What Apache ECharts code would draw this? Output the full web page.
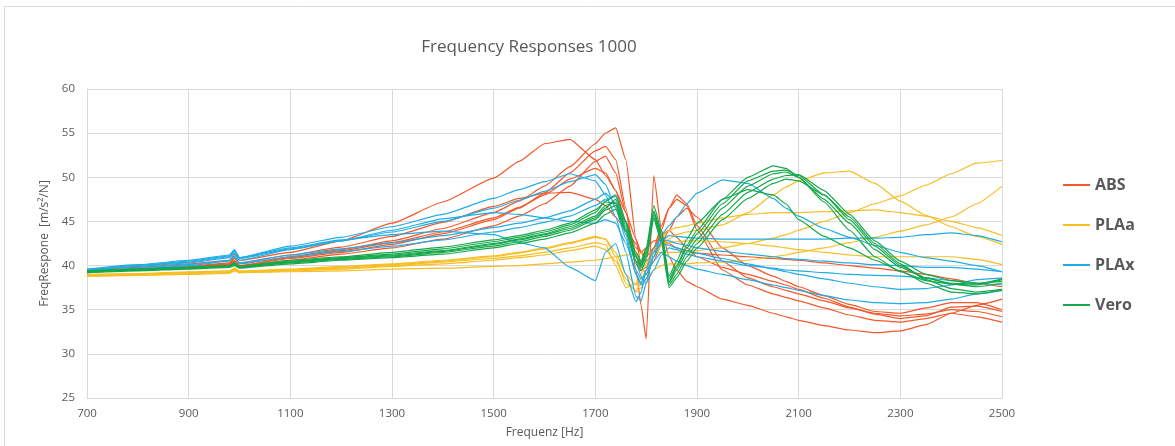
<!DOCTYPE html>
<html>
<head>
<meta charset="utf-8">
<title>Frequency Responses 1000</title>
<script src="https://cdn.jsdelivr.net/npm/echarts@6/dist/echarts.min.js"></script>
<style>
  html, body { margin: 0; padding: 0; background: #ffffff; }
  #chart { width: 1175px; height: 446px; }
</style>
</head>
<body>
<div id="chart"></div>
<script>
// Shared frequency grid [Hz] for all measured curves
const freq = [700, 800, 900, 980, 990, 1000, 1100, 1200, 1300, 1400, 1500, 1550, 1600, 1650, 1700, 1720, 1740, 1760, 1780, 1790, 1800, 1815, 1830, 1845, 1860, 1880, 1900, 1950, 2000, 2050, 2075, 2100, 2150, 2200, 2250, 2300, 2350, 2400, 2450, 2500];

const xTicks = [700, 900, 1100, 1300, 1500, 1700, 1900, 2100, 2300, 2500];
const yTicks = [25, 30, 35, 40, 45, 50, 55, 60];

// ABS specimens [m/s²/N]
const abs1 = [39.5, 39.8, 40.2, 40.6, 41.3, 40.6, 41.5, 42.8, 44.8, 47.2, 49.9, 51.8, 53.8, 54.3, 52.0, 50.2, 48.5, 46.0, 43.0, 41.5, 40.5, 41.5, 44.0, 46.5, 48.0, 47.0, 44.5, 40.5, 38.6, 37.6, 37.2, 36.8, 36.0, 35.2, 34.6, 34.3, 34.5, 35.0, 34.8, 34.2];
const abs2 = [39.4, 39.6, 39.9, 40.2, 40.8, 40.2, 41.0, 41.8, 42.8, 44.2, 46.0, 47.3, 49.0, 51.2, 53.8, 55.0, 55.6, 52.0, 43.0, 40.0, 39.0, 40.5, 42.5, 44.0, 45.5, 46.5, 45.5, 42.0, 40.0, 38.8, 38.2, 37.6, 36.6, 35.6, 34.8, 34.6, 35.2, 35.8, 35.8, 35.0];
const abs3 = [39.3, 39.6, 39.8, 40.1, 40.6, 40.0, 40.8, 41.5, 42.4, 43.6, 45.2, 46.5, 48.2, 50.5, 53.0, 53.5, 52.0, 46.5, 39.5, 35.5, 31.7, 50.2, 44.0, 41.0, 39.5, 38.2, 37.6, 36.2, 35.5, 34.6, 34.2, 33.8, 33.2, 32.7, 32.4, 32.6, 33.3, 34.6, 35.5, 36.2];
const abs4 = [39.2, 39.5, 39.7, 40.0, 40.4, 39.9, 40.6, 41.3, 42.0, 43.0, 44.5, 45.6, 47.0, 49.0, 51.8, 52.4, 50.5, 46.0, 41.0, 39.5, 39.8, 42.0, 44.5, 46.5, 47.5, 46.8, 44.0, 39.5, 37.8, 36.8, 36.4, 36.0, 35.2, 34.4, 33.8, 33.6, 34.0, 34.6, 34.2, 33.6];
const abs5 = [39.3, 39.5, 39.8, 40.1, 40.5, 40.0, 40.9, 41.7, 42.6, 43.8, 45.4, 46.6, 48.0, 49.8, 51.0, 50.5, 48.5, 45.0, 42.0, 41.5, 42.0, 42.8, 43.0, 42.5, 42.0, 41.6, 41.4, 41.2, 41.0, 40.8, 40.7, 40.6, 40.3, 40.0, 39.7, 39.4, 39.0, 38.5, 38.0, 37.6];
const abs6 = [39.4, 39.6, 39.9, 40.3, 40.9, 40.3, 41.2, 42.1, 43.3, 44.9, 46.7, 47.6, 48.2, 48.3, 47.5, 46.8, 45.5, 44.0, 42.5, 41.5, 41.0, 42.0, 43.5, 44.0, 43.2, 42.0, 41.0, 39.8, 39.0, 38.2, 37.8, 37.3, 36.3, 35.3, 34.5, 34.0, 34.3, 35.3, 35.4, 34.8];

// PLAa specimens
const plaa1 = [38.8, 38.9, 39.0, 39.1, 39.4, 39.2, 39.3, 39.4, 39.6, 39.7, 39.9, 40.0, 40.2, 40.4, 40.6, 40.8, 41.0, 41.2, 41.3, 41.4, 41.4, 41.5, 41.5, 41.5, 41.5, 41.6, 41.7, 42.0, 42.5, 43.1, 43.5, 44.0, 45.0, 46.0, 47.0, 47.9, 49.1, 50.4, 51.6, 51.9];
const plaa2 = [38.9, 39.0, 39.2, 39.3, 39.6, 39.3, 39.5, 39.8, 40.1, 40.5, 41.0, 41.4, 41.9, 42.5, 43.2, 43.0, 41.5, 39.0, 37.8, 38.5, 39.5, 41.0, 42.2, 43.0, 43.5, 43.8, 44.0, 44.6, 46.0, 48.0, 48.9, 49.6, 50.5, 50.7, 49.3, 47.3, 45.7, 44.4, 43.3, 42.4];
const plaa3 = [39.0, 39.1, 39.3, 39.4, 39.7, 39.4, 39.6, 39.9, 40.2, 40.6, 41.1, 41.5, 42.0, 42.6, 43.3, 43.0, 41.0, 38.0, 37.2, 38.0, 39.5, 41.8, 43.2, 44.0, 44.3, 44.5, 44.8, 45.4, 45.8, 46.0, 46.0, 46.0, 46.1, 46.2, 46.3, 46.0, 45.6, 45.0, 44.3, 43.4];
const plaa4 = [38.8, 38.9, 39.1, 39.2, 39.5, 39.2, 39.4, 39.6, 39.9, 40.2, 40.6, 40.9, 41.2, 41.7, 42.2, 41.8, 40.5, 38.5, 37.0, 37.5, 38.5, 39.5, 40.0, 40.2, 40.2, 40.2, 40.3, 40.4, 40.6, 41.0, 41.2, 41.5, 42.0, 42.6, 43.2, 43.9, 44.6, 45.5, 47.0, 49.0];
const plaa5 = [38.9, 39.0, 39.2, 39.3, 39.6, 39.3, 39.5, 39.7, 40.0, 40.4, 40.8, 41.1, 41.5, 42.0, 42.6, 42.4, 40.0, 37.5, 38.0, 39.0, 40.2, 41.5, 42.3, 42.6, 42.7, 42.8, 42.8, 42.7, 42.5, 42.2, 42.0, 41.8, 41.5, 41.2, 41.0, 41.0, 41.0, 41.0, 40.7, 40.1];

// PLAx specimens
const plax1 = [39.6, 40.1, 40.6, 41.2, 41.8, 40.9, 42.2, 43.2, 44.4, 45.8, 47.6, 48.6, 49.5, 50.4, 49.6, 48.0, 45.5, 41.5, 36.5, 36.0, 38.0, 41.5, 42.5, 42.3, 42.0, 41.7, 41.4, 40.8, 40.2, 39.6, 39.3, 39.0, 38.5, 38.0, 37.6, 37.3, 37.4, 37.8, 38.4, 38.6];
const plax2 = [39.5, 40.0, 40.4, 41.0, 41.6, 40.8, 41.9, 42.8, 43.8, 45.0, 46.5, 47.4, 48.4, 49.5, 50.3, 49.2, 46.5, 43.0, 39.0, 38.0, 39.5, 42.0, 43.0, 42.8, 42.5, 42.3, 42.0, 41.6, 41.3, 41.0, 40.8, 40.7, 40.5, 40.3, 40.1, 40.0, 39.8, 39.8, 39.6, 39.3];
const plax3 = [39.3, 39.7, 40.1, 40.6, 41.1, 40.3, 41.2, 41.9, 42.6, 43.4, 44.3, 44.8, 45.4, 46.2, 47.5, 48.2, 47.0, 43.5, 39.0, 37.8, 38.5, 41.0, 43.5, 44.5, 45.5, 47.0, 48.2, 49.7, 49.3, 47.6, 46.5, 45.6, 44.2, 43.2, 42.3, 41.5, 40.9, 40.5, 40.0, 39.3];
const plax4 = [39.4, 39.9, 40.3, 40.9, 41.4, 40.6, 41.8, 42.8, 44.0, 45.3, 46.0, 45.8, 45.4, 45.0, 44.8, 45.2, 44.8, 42.5, 39.5, 38.5, 39.0, 41.0, 42.8, 43.4, 43.3, 43.2, 43.1, 43.0, 43.0, 43.0, 43.0, 43.0, 43.0, 43.1, 43.1, 43.2, 43.5, 43.7, 43.4, 42.7];
const plax5 = [39.5, 40.0, 40.5, 41.1, 41.7, 40.9, 42.0, 42.9, 43.5, 43.9, 43.5, 42.6, 42.0, 39.8, 38.3, 41.5, 42.5, 39.0, 35.9, 37.0, 39.5, 40.5, 41.5, 41.0, 40.5, 40.0, 39.6, 39.0, 38.4, 37.8, 37.5, 37.2, 36.6, 36.1, 35.8, 35.7, 35.8, 36.2, 36.8, 37.2];
const plax6 = [39.2, 39.6, 40.0, 40.5, 41.0, 40.2, 41.0, 41.6, 42.2, 42.9, 43.8, 44.3, 44.9, 45.6, 46.8, 47.5, 47.8, 45.0, 40.5, 38.8, 38.0, 39.5, 41.2, 42.0, 41.8, 41.3, 41.0, 40.5, 40.0, 39.7, 39.5, 39.4, 39.2, 39.0, 38.9, 38.8, 38.6, 38.3, 38.0, 37.8];

// Vero specimens
const vero1 = [39.4, 39.6, 39.8, 40.0, 40.3, 39.9, 40.5, 40.9, 41.3, 41.9, 42.7, 43.2, 43.8, 44.6, 46.0, 47.3, 48.0, 45.0, 41.5, 40.5, 42.0, 46.8, 44.0, 38.5, 40.0, 42.3, 44.0, 47.5, 50.0, 51.3, 51.0, 50.0, 47.2, 44.0, 41.0, 39.3, 38.3, 37.9, 37.8, 38.4];
const vero2 = [39.3, 39.5, 39.7, 39.9, 40.2, 39.8, 40.4, 40.8, 41.2, 41.7, 42.5, 43.0, 43.6, 44.4, 45.6, 46.8, 47.2, 44.5, 41.0, 40.0, 41.5, 46.2, 43.5, 38.0, 39.5, 41.5, 43.0, 46.5, 49.0, 50.4, 50.6, 50.0, 47.5, 44.8, 41.8, 39.8, 38.6, 38.0, 37.9, 38.5];
const vero3 = [39.3, 39.5, 39.7, 39.9, 40.1, 39.8, 40.3, 40.7, 41.0, 41.5, 42.2, 42.7, 43.3, 44.0, 45.2, 46.3, 46.8, 44.0, 40.5, 39.8, 41.0, 45.8, 43.0, 37.8, 39.0, 41.0, 42.5, 45.8, 48.3, 49.8, 50.2, 50.3, 48.5, 45.8, 42.8, 40.5, 39.0, 38.3, 38.0, 38.2];
const vero4 = [39.2, 39.4, 39.6, 39.8, 40.0, 39.7, 40.2, 40.6, 40.9, 41.3, 42.0, 42.5, 43.0, 43.7, 44.8, 45.8, 46.4, 43.8, 40.2, 39.4, 40.6, 45.3, 42.6, 37.5, 38.6, 40.5, 42.0, 45.2, 47.6, 49.3, 49.8, 49.6, 48.0, 45.5, 42.5, 40.2, 38.4, 37.4, 37.0, 37.3];
const vero5 = [39.4, 39.6, 39.8, 40.0, 40.3, 39.9, 40.6, 41.0, 41.5, 42.1, 42.9, 43.4, 44.0, 44.8, 46.3, 47.2, 47.0, 44.2, 41.0, 40.3, 41.8, 45.5, 43.2, 38.8, 40.5, 43.0, 44.8, 47.5, 48.6, 48.0, 47.0, 45.2, 43.3, 42.0, 40.6, 39.4, 38.0, 37.0, 36.8, 37.2];
const vero6 = [39.3, 39.5, 39.7, 39.9, 40.2, 39.8, 40.4, 40.8, 41.1, 41.6, 42.4, 42.9, 43.5, 44.2, 45.4, 46.5, 47.5, 44.8, 41.2, 40.0, 41.2, 46.0, 43.8, 38.2, 39.8, 42.0, 43.6, 47.0, 49.6, 50.7, 50.8, 50.2, 48.0, 45.2, 42.2, 40.0, 38.6, 37.9, 37.6, 38.0];

const groups = [
  { name: 'ABS',  color: '#F2582A', curves: [abs1, abs2, abs3, abs4, abs5, abs6] },
  { name: 'PLAa', color: '#F7BE21', curves: [plaa1, plaa2, plaa3, plaa4, plaa5] },
  { name: 'PLAx', color: '#21ACE6', curves: [plax1, plax2, plax3, plax4, plax5, plax6] },
  { name: 'Vero', color: '#15A84B', curves: [vero1, vero2, vero3, vero4, vero5, vero6] }
];

const series = [];
groups.forEach(g => {
  g.curves.forEach(vals => {
    series.push({
      name: g.name,
      type: 'line',
      color: g.color,
      data: freq.map((f, i) => [f, vals[i]]),
      showSymbol: false,
      symbol: 'none',
      smooth: 0.15,
      smoothMonotone: 'x',
      lineStyle: { width: 1.2, color: g.color },
      emphasis: { disabled: true },
      animation: false
    });
  });
});

const textColor = '#595959';
const chart = echarts.init(document.getElementById('chart'), null, { renderer: 'canvas' });
chart.setOption({
  backgroundColor: '#ffffff',
  animation: false,
  title: {
    text: 'Frequency Responses 1000',
    left: 524,
    top: 34,
    textAlign: 'center',
    textStyle: { fontFamily: 'Open Sans', fontSize: 17, fontWeight: 'normal', color: textColor }
  },
  legend: {
    data: groups.map(g => g.name),
    orient: 'vertical',
    left: 1058,
    top: 170,
    itemWidth: 27,
    itemHeight: 2,
    itemGap: 20,
    icon: 'rect',
    textStyle: { fontFamily: 'Open Sans', fontSize: 16, fontWeight: 'bold', color: textColor, lineHeight: 20 }
  },
  graphic: [{
    type: 'rect',
    shape: { x: 4.5, y: 6.5, width: 1200, height: 460 },
    style: { fill: 'none', stroke: '#D9D9D9', lineWidth: 1 },
    silent: true
  }],
  grid: { left: 87, right: 173, top: 89, bottom: 48 },
  xAxis: {
    type: 'value',
    min: xTicks[0],
    max: xTicks[xTicks.length - 1],
    interval: xTicks[1] - xTicks[0],
    name: 'Frequenz [Hz]',
    nameLocation: 'middle',
    nameGap: 29,
    nameTextStyle: { fontFamily: 'Open Sans', fontSize: 12, color: textColor },
    axisLine: { show: true, lineStyle: { color: '#D9D9D9' } },
    axisTick: { show: false },
    axisLabel: { fontFamily: 'Open Sans', fontSize: 11.5, color: textColor, margin: 10, formatter: v => String(v) },
    splitLine: { show: true, lineStyle: { color: '#D9D9D9', width: 1 } }
  },
  yAxis: {
    type: 'value',
    min: yTicks[0],
    max: yTicks[yTicks.length - 1],
    interval: yTicks[1] - yTicks[0],
    name: 'FreqRespone  [m/s²/N]',
    nameLocation: 'middle',
    nameGap: 34,
    nameTextStyle: { fontFamily: 'Open Sans', fontSize: 12, color: textColor },
    axisLine: { show: true, lineStyle: { color: '#D9D9D9' } },
    axisTick: { show: false },
    axisLabel: { fontFamily: 'Open Sans', fontSize: 11.5, color: textColor, margin: 12, formatter: v => String(v) },
    splitLine: { show: true, lineStyle: { color: '#D9D9D9', width: 1 } }
  },
  series: series
});
</script>
</body>
</html>
